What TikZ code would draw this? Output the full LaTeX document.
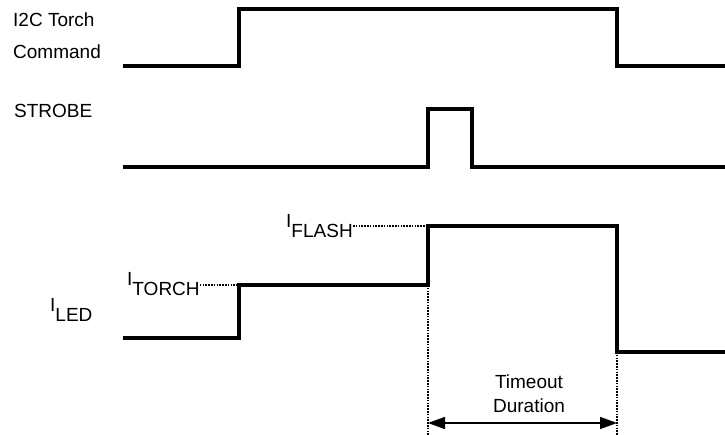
\documentclass[tikz,border=0pt]{standalone}
\usepackage{fontspec}
\setmainfont{Liberation Sans}
\usetikzlibrary{arrows.meta}

\tikzset{
  wave/.style={line width=3.6pt, line join=miter},
  leader/.style={dash pattern=on 1.6pt off 1.2pt, line width=1.1pt},
  lbl/.style={inner sep=0pt, font=\fontsize{19}{24}\selectfont},
  span/.style={line width=1.6pt, {Triangle[length=17pt,width=12pt]}-{Triangle[length=17pt,width=12pt]}},
}
\newcommand{\lowsub}[2]{#1\raisebox{-10pt}{#2}}

\begin{document}
\begin{tikzpicture}[x=1pt,y=-1pt]
  \useasboundingbox (0,0) rectangle (725,435);
  % Edge times and levels
  \coordinate (tOn)  at (239,0);
  \coordinate (tSt)  at (428,0);
  \coordinate (tSe)  at (472,0);
  \coordinate (tOff) at (617,0);
  \coordinate (torch) at (239,285);
  \coordinate (flash) at (428,226);
  \coordinate (ledend) at (617,352);
  % Signal names
  \node[lbl, anchor=base west] (cmd1) at (13,27) {I2C Torch};
  \node[lbl, anchor=base west] (cmd2) at (13,59) {Command};
  \node[lbl, anchor=base west] (strobe) at (14,118) {STROBE};
  \node[lbl, anchor=base west] (iled) at (50,312) {\lowsub{I}{LED}};
  \node[lbl, anchor=base west] (itorch) at (127,286) {\lowsub{I}{TORCH}};
  \node[lbl, anchor=base west] (iflash) at (286,228) {\lowsub{I}{FLASH}};
  % I2C command
  \draw[wave] (123,66) -- (tOn |- 0,66) -- (tOn |- 0,9) -- (tOff |- 0,9)
    -- (tOff |- 0,66) -- (725,66);
  % Strobe pulse
  \draw[wave] (123,167) -- (tSt |- 0,167) -- (tSt |- 0,109) -- (tSe |- 0,109)
    -- (tSe |- 0,167) -- (725,167);
  % LED current
  \draw[wave] (123,338) -- (torch |- 0,338) -- (torch) -- (flash |- torch)
    -- (flash) -- (ledend |- flash) -- (ledend) -- (725,352);
  % Level leaders
  \draw[leader] (itorch.east |- torch) -- (torch);
  \draw[leader] (iflash.east |- flash) -- (flash);
  % Timeout span
  \draw[leader] (flash |- torch) -- (flash |- 0,435);
  \draw[leader] (ledend) -- (ledend |- 0,435);
  \coordinate (spanL) at (428,423);
  \coordinate (spanR) at (617,423);
  \draw[span] (spanL) -- (spanR);
  \node[lbl, align=center, anchor=base] (tout) at (529,412) {Timeout\\Duration};
\end{tikzpicture}
\end{document}
